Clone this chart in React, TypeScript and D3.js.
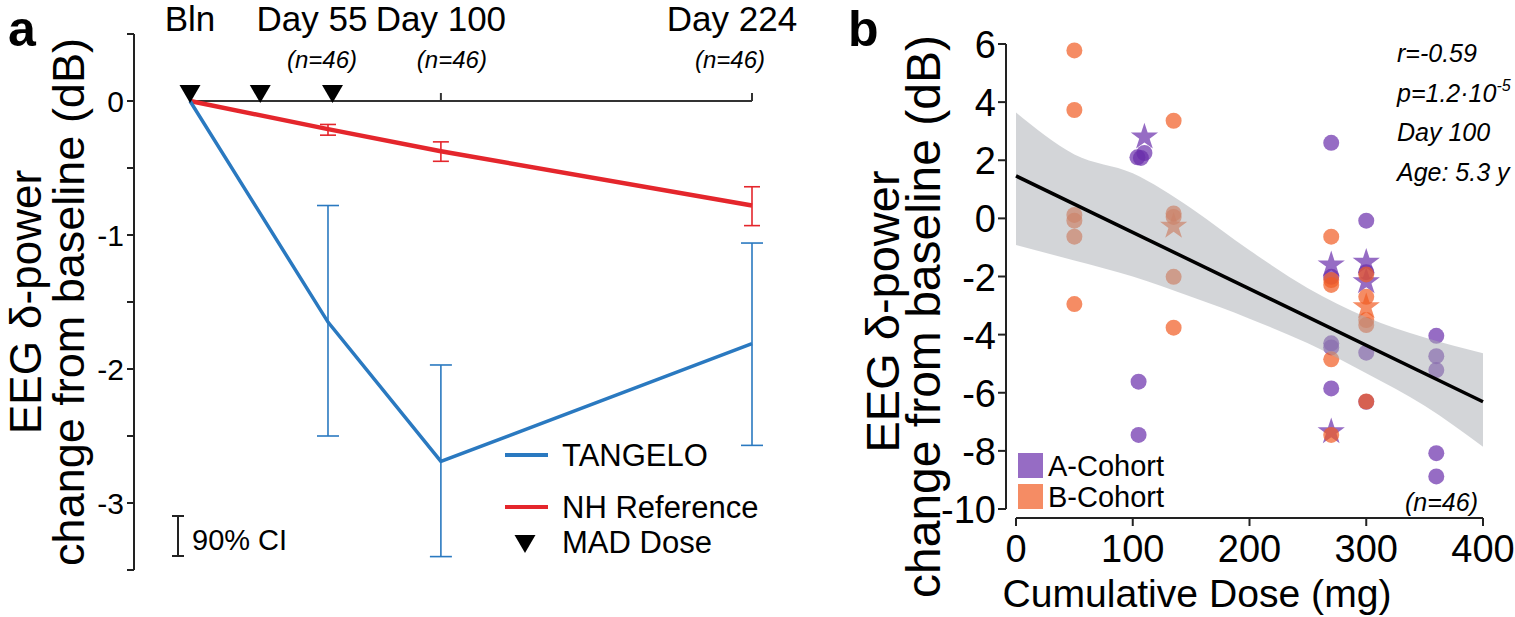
import * as d3 from 'd3'

// ---- panel a : time course ----
const visitDays = [0, 55, 100, 224]
const visitLabels = ['Bln', 'Day 55', 'Day 100', 'Day 224']
const visitN = ['', '(n=46)', '(n=46)', '(n=46)']
const tangeloMean = [0, -1.65, -2.69, -1.81]
const tangeloLow = [0, -2.5, -3.4, -2.57]
const tangeloHigh = [0, -0.78, -1.97, -1.06]
const nhMean = [0, -0.21, -0.375, -0.78]
const nhLow = [0, -0.255, -0.45, -0.93]
const nhHigh = [0, -0.175, -0.305, -0.64]
const doseDays = [0, 28, 56]
const aTicks = [0.5, 0, -0.5, -1, -1.5, -2, -2.5, -3, -3.5]
const aTickLabels = [0, -1, -2, -3]

// ---- panel b : dose vs change ----
const bTicksY = [6, 4, 2, 0, -2, -4, -6, -8, -10]
const bTicksX = [0, 100, 200, 300, 400]
const fitDose = [0, 400]
const fitValue = [1.46, -6.31]
const bandDose = [0, 50, 100, 150, 200, 250, 300, 350, 400]
const bandUpper = [3.64, 2.2, 1.55, 0.35, -1.1, -2.4, -3.4, -4.1, -4.64]
const bandLower = [-0.92, -1.45, -2.0, -2.7, -3.45, -4.3, -5.33, -6.45, -7.86]

type Pt = { dose: number; value: number; star?: boolean }
const cohortA: Pt[] = [
  { dose: 104, value: 2.1 },
  { dose: 107, value: 2.08 },
  { dose: 110, value: 2.25 },
  { dose: 110, value: 2.8, star: true },
  { dose: 105, value: -5.62 },
  { dose: 105, value: -7.45 },
  { dose: 270, value: 2.6 },
  { dose: 270, value: -1.6, star: true },
  { dose: 270, value: -2.01 },
  { dose: 270, value: -4.3 },
  { dose: 270, value: -4.44 },
  { dose: 270, value: -5.85 },
  { dose: 270, value: -7.34, star: true },
  { dose: 300, value: -0.08 },
  { dose: 300, value: -1.51, star: true },
  { dose: 300, value: -1.85 },
  { dose: 300, value: -2.18, star: true },
  { dose: 300, value: -4.62 },
  { dose: 300, value: -6.31 },
  { dose: 360, value: -4.04 },
  { dose: 360, value: -4.74 },
  { dose: 360, value: -5.22 },
  { dose: 360, value: -8.08 },
  { dose: 360, value: -8.88 },
]
const cohortB: Pt[] = [
  { dose: 50, value: 5.78 },
  { dose: 50, value: 3.73 },
  { dose: 50, value: 0.12 },
  { dose: 50, value: -0.08 },
  { dose: 50, value: -0.63 },
  { dose: 50, value: -2.95 },
  { dose: 135, value: 3.36 },
  { dose: 135, value: 0.17 },
  { dose: 135, value: 0.05 },
  { dose: 135, value: -0.27, star: true },
  { dose: 135, value: -2.01 },
  { dose: 135, value: -3.76 },
  { dose: 270, value: -0.63 },
  { dose: 270, value: -2.12 },
  { dose: 270, value: -2.29 },
  { dose: 270, value: -4.85 },
  { dose: 270, value: -7.45 },
  { dose: 300, value: -1.93 },
  { dose: 300, value: -2.7 },
  { dose: 300, value: -3.04, star: true },
  { dose: 300, value: -3.5 },
  { dose: 300, value: -3.67 },
  { dose: 300, value: -6.3 },
]
const statsLines = ['r=-0.59', 'p=1.2·10', 'Day 100', 'Age: 5.3 y']
const cohortNames = ['A-Cohort', 'B-Cohort']

const BLUE = '#2a79c0'
const RED = '#e4262c'
const PURPLE = '#692dab' // drawn at 0.7 opacity
const ORANGE = '#f15b22'
const FONT = '"Liberation Sans", Arial, Helvetica, sans-serif'

export default function App() {
  const xA = d3.scaleLinear().domain([0, 224]).range([190, 752])
  const yA = d3.scaleLinear().domain([0.5, -3.5]).range([34, 570])
  const xB = d3.scaleLinear().domain([0, 400]).range([1016, 1483])
  const yB = d3.scaleLinear().domain([6, -10]).range([44, 509])

  const lineA = d3
    .line<number>()
    .x((_, i) => xA(visitDays[i]))
    .y((d) => yA(d))

  const band = d3
    .area<number>()
    .x((d) => xB(d))
    .y0((_, i) => yB(bandLower[i]))
    .y1((_, i) => yB(bandUpper[i]))
    .curve(d3.curveMonotoneX)

  const fit = d3
    .line<number>()
    .x((d) => xB(d))
    .y((_, i) => yB(fitValue[i]))

  const star = d3.symbol().type(d3.symbolStar).size(230)()
  const tri = d3.symbol().type(d3.symbolTriangle).size(190)()

  const errBars = (lo: number[], hi: number[], color: string, cap: number, w: number) =>
    visitDays.slice(1).map((day, j) => {
      const i = j + 1
      const x = xA(day)
      return (
        <g key={`${color}${i}`} stroke={color} strokeWidth={w}>
          <line x1={x} x2={x} y1={yA(lo[i])} y2={yA(hi[i])} />
          <line x1={x - cap} x2={x + cap} y1={yA(lo[i])} y2={yA(lo[i])} />
          <line x1={x - cap} x2={x + cap} y1={yA(hi[i])} y2={yA(hi[i])} />
        </g>
      )
    })

  const labelDx = [0, -16, 0, -20]
  const nDx = [0, -6, 11, -22]

  const drawPts = (pts: Pt[], color: string, tag: string) =>
    pts.map((p, i) => {
      const x = xB(p.dose)
      const y = yB(p.value)
      return p.star ? (
        <path key={tag + i} d={star} transform={`translate(${x},${y})`} fill={color} fillOpacity={0.7} />
      ) : (
        <circle key={tag + i} cx={x} cy={y} r={8} fill={color} fillOpacity={0.7} />
      )
    })

  const midA = (yA(0.5) + yA(-3.5)) / 2

  return (
    <svg
      width={1515}
      height={617}
      style={{ position: 'absolute', left: 0, top: 0, background: '#fff' }}
      fontFamily={FONT}
    >
      {/* ---------- panel a ---------- */}
      <text x={8} y={46} fontSize={50} fontWeight="bold">a</text>

      <line x1={134} x2={134} y1={yA(0.5)} y2={yA(-3.5)} stroke="#222" strokeWidth={2} />
      {aTicks.map((t) => (
        <line key={t} x1={127} x2={134} y1={yA(t)} y2={yA(t)} stroke="#222" strokeWidth={2} />
      ))}
      {aTickLabels.map((t) => (
        <text key={t} x={124} y={yA(t) + 11} fontSize={30} textAnchor="end">{`${t}`}</text>
      ))}

      <text transform={`translate(41,${midA}) rotate(-90)`} fontSize={44} textAnchor="middle">
        EEG δ-power
      </text>
      <text transform={`translate(84,${midA}) rotate(-90)`} fontSize={45} textAnchor="middle">
        change from baseline (dB)
      </text>

      <line x1={xA(0)} x2={xA(224)} y1={yA(0)} y2={yA(0)} stroke="#333" strokeWidth={2} />
      {visitDays.slice(2).map((d) => (
        <line key={d} x1={xA(d)} x2={xA(d)} y1={yA(0)} y2={yA(0) - 8} stroke="#333" strokeWidth={2} />
      ))}
      {visitLabels.map((l, i) => (
        <text key={l} x={xA(visitDays[i]) + labelDx[i]} y={31} fontSize={35} textAnchor="middle">{l}</text>
      ))}
      {visitN.map((n, i) =>
        n ? (
          <text key={i} x={xA(visitDays[i]) + nDx[i]} y={68} fontSize={24} fontStyle="italic" textAnchor="middle">{n}</text>
        ) : null
      )}

      <path d={lineA(nhMean) ?? ''} fill="none" stroke={RED} strokeWidth={4.5} />
      {errBars(nhLow, nhHigh, RED, 8, 1.6)}
      <path d={lineA(tangeloMean) ?? ''} fill="none" stroke={BLUE} strokeWidth={3.5} />
      {errBars(tangeloLow, tangeloHigh, BLUE, 11, 1.6)}

      {doseDays.map((d) => (
        <path key={d} d={tri} transform={`translate(${xA(d) + (d === 56 ? 2 : 0)},${yA(0) - 10}) rotate(180)`} fill="#000" />
      ))}

      {/* legend a */}
      <line x1={505} x2={548} y1={455} y2={455} stroke={BLUE} strokeWidth={4} />
      <text x={562} y={466} fontSize={31}>TANGELO</text>
      <line x1={505} x2={548} y1={507} y2={507} stroke={RED} strokeWidth={4} />
      <text x={562} y={518} fontSize={31}>NH Reference</text>
      <path d={tri} transform="translate(525,541) rotate(180)" fill="#000" />
      <text x={562} y={553} fontSize={31}>MAD Dose</text>

      <g stroke="#222" strokeWidth={2}>
        <line x1={178} x2={178} y1={516} y2={556} />
        <line x1={172} x2={184} y1={516} y2={516} />
        <line x1={172} x2={184} y1={556} y2={556} />
      </g>
      <text x={192} y={550} fontSize={29}>90% CI</text>

      {/* ---------- panel b ---------- */}
      <text x={848} y={46} fontSize={50} fontWeight="bold">b</text>

      {drawPts(cohortA, PURPLE, 'a')}
      {drawPts(cohortB, ORANGE, 'b')}

      <path d={band(bandDose) ?? ''} fill="#a7abb1" fillOpacity={0.5} />
      <path d={fit(fitDose) ?? ''} fill="none" stroke="#000" strokeWidth={3.5} />

      <line x1={1006} x2={1006} y1={yB(6)} y2={yB(-10)} stroke="#222" strokeWidth={2} />
      {bTicksY.map((t) => (
        <g key={t}>
          <line x1={998} x2={1006} y1={yB(t)} y2={yB(t)} stroke="#222" strokeWidth={2} />
          <text x={996} y={yB(t) + 14} fontSize={38} textAnchor="end">{`${t}`}</text>
        </g>
      ))}
      <line x1={xB(0)} x2={xB(400)} y1={518} y2={518} stroke="#222" strokeWidth={2} />
      {bTicksX.map((t) => (
        <g key={t}>
          <line x1={xB(t)} x2={xB(t)} y1={518} y2={526} stroke="#222" strokeWidth={2} />
          <text x={xB(t)} y={562} fontSize={38} textAnchor="middle">{`${t}`}</text>
        </g>
      ))}
      <text x={1197} y={607} fontSize={39} textAnchor="middle" textLength={389} lengthAdjust="spacingAndGlyphs">
        Cumulative Dose (mg)
      </text>

      <text transform={`translate(899,${(yB(6) + yB(-10)) / 2 + 35}) rotate(-90)`} fontSize={47} textAnchor="middle">
        EEG δ-power
      </text>
      <text transform={`translate(940,${(yB(6) + yB(-10)) / 2 + 40}) rotate(-90)`} fontSize={48} textAnchor="middle">
        change from baseline (dB)
      </text>

      {statsLines.map((s, i) => (
        <text key={s} x={1397} y={62 + i * 39.5} fontSize={25} fontStyle="italic">
          {s}
          {i === 1 ? <tspan dy={-11} fontSize={16}>-5</tspan> : null}
        </text>
      ))}
      <text x={1478} y={511} fontSize={25} fontStyle="italic" textAnchor="end">(n=46)</text>

      {cohortNames.map((name, i) => (
        <g key={name}>
          <rect x={1018} y={453 + i * 31} width={25} height={25} fill={i === 0 ? PURPLE : ORANGE} fillOpacity={0.7} />
          <text x={1048} y={476 + i * 31} fontSize={29}>{name}</text>
        </g>
      ))}
    </svg>
  )
}
